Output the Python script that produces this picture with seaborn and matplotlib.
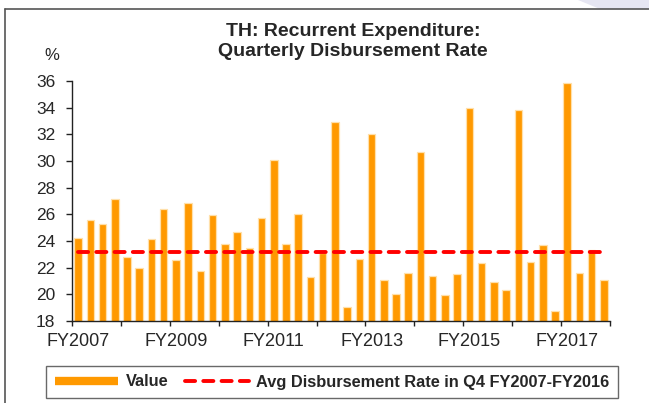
import numpy as np
import pandas as pd
import matplotlib
matplotlib.use("Agg")
import matplotlib.pyplot as plt
from matplotlib.lines import Line2D
from matplotlib.patches import Polygon
import seaborn as sns

# ─── Data ────────────────────────────────────────────────────────────────────
YEARS = list(range(2007, 2018))
QUARTERS = [f"FY{y}Q{q}" for y in YEARS for q in range(1, 5)]
VALUES = [24.2, 25.55, 25.25, 27.15, 22.8, 22.0, 24.15, 26.4,
          22.55, 26.85, 21.75, 25.95, 23.8, 24.7, 23.5, 25.75,
          30.1, 23.8, 26.0, 21.3, 23.1, 32.9, 19.05, 22.65,
          32.05, 21.1, 20.05, 21.6, 30.7, 21.35, 19.95, 21.55,
          34.0, 22.35, 20.95, 20.3, 33.85, 22.45, 23.7, 18.75,
          35.85, 21.6, 23.35, 21.1]
AVG_RATE = 23.15
XTICK_LABELS = ["FY2007", "FY2009", "FY2011", "FY2013", "FY2015", "FY2017"]
YTICKS = list(range(18, 37, 2))

TITLE_LINES = ["TH: Recurrent Expenditure:", "Quarterly Disbursement Rate"]
BAR_COLOR = "#FF9900"
LINE_COLOR = "#FF0000"

# ─── Style ───────────────────────────────────────────────────────────────────
sns.set_theme(style="white")
plt.rcParams["font.family"] = ["Liberation Sans", "DejaVu Sans"]

W, H = 649, 403
fig = plt.figure(figsize=(W / 100, H / 100), dpi=100, facecolor="white")
ax = fig.add_axes([72 / W, 1 - 321 / H, (610 - 72) / W, (321 - 81) / H])

df = pd.DataFrame({"quarter": QUARTERS, "value": VALUES})
sns.barplot(data=df, x="quarter", y="value", color=BAR_COLOR, saturation=1,
            width=0.62, edgecolor="#FFE0AA", linewidth=0.9, ax=ax)

xs = np.arange(len(QUARTERS))
ax.plot(xs, [AVG_RATE] * len(xs), color=LINE_COLOR, lw=2.8,
        dashes=(2.6, 2.1), dash_capstyle="round", zorder=5)

ax.set_xlim(-0.5, len(QUARTERS) - 0.5)
ax.set_ylim(18, 36)
ax.set_yticks(YTICKS)
ax.set_xticks(np.arange(-0.5, len(QUARTERS), 4), labels=[])
label_pos = [QUARTERS.index(lbl + "Q1") for lbl in XTICK_LABELS]
ax.set_xticks(label_pos, labels=XTICK_LABELS, minor=True)

ax.set_xlabel("")
ax.set_ylabel("")
sns.despine(ax=ax, top=True, right=True)
for s in ("left", "bottom"):
    ax.spines[s].set_color("#222222")
    ax.spines[s].set_linewidth(1.0)
ax.tick_params(axis="y", which="major", direction="out", length=4, width=1,
               color="#222222", pad=8, labelsize=12.5, left=True)
ax.tick_params(axis="x", which="major", direction="out", length=3.5, width=1,
               color="#222222", bottom=True)
ax.tick_params(axis="x", which="minor", length=0, pad=9, labelsize=13)
ax.grid(False)

# ─── Texts ───────────────────────────────────────────────────────────────────
for line, y_px in zip(TITLE_LINES, [31, 52]):
    fig.text(353 / W, 1 - y_px / H, line, ha="center", va="center",
             fontsize=14, fontweight="bold")
fig.text(52 / W, 1 - 55 / H, "%", ha="center", va="center", fontsize=12)

# ─── Legend ──────────────────────────────────────────────────────────────────
handles = [Line2D([], [], color=BAR_COLOR, lw=6, solid_capstyle="butt"),
           Line2D([], [], color=LINE_COLOR, lw=2.8, dashes=(2.6, 2.1),
                  dash_capstyle="round")]
leg = fig.legend(handles, ["Value", "Avg Disbursement Rate in Q4 FY2007-FY2016"],
                 loc="center", bbox_to_anchor=(332 / W, 1 - 382 / H), ncol=2,
                 frameon=True, fancybox=False, handlelength=3.9,
                 handletextpad=0.45, columnspacing=1.0, borderpad=0.5,
                 prop={"weight": "bold", "size": 11.8})
leg.get_frame().set_edgecolor("#444444")
leg.get_frame().set_linewidth(1.0)

# ─── Slide frame ─────────────────────────────────────────────────────────────
fig.add_artist(Polygon([(578 / W, 1), (1, 1), (1, 1 - 9 / H), (600 / W, 1 - 9 / H)],
                       closed=True, transform=fig.transFigure,
                       facecolor="#E6E6F2", edgecolor="none"))
fig.add_artist(Line2D([5 / W, 5 / W], [0, 1 - 9 / H], transform=fig.transFigure,
                      color="#555555", lw=1.2))
fig.add_artist(Line2D([5 / W, 1], [1 - 9 / H, 1 - 9 / H], transform=fig.transFigure,
                      color="#555555", lw=1.2))

fig.savefig("out.png", dpi=100, facecolor="white")
plt.close(fig)
